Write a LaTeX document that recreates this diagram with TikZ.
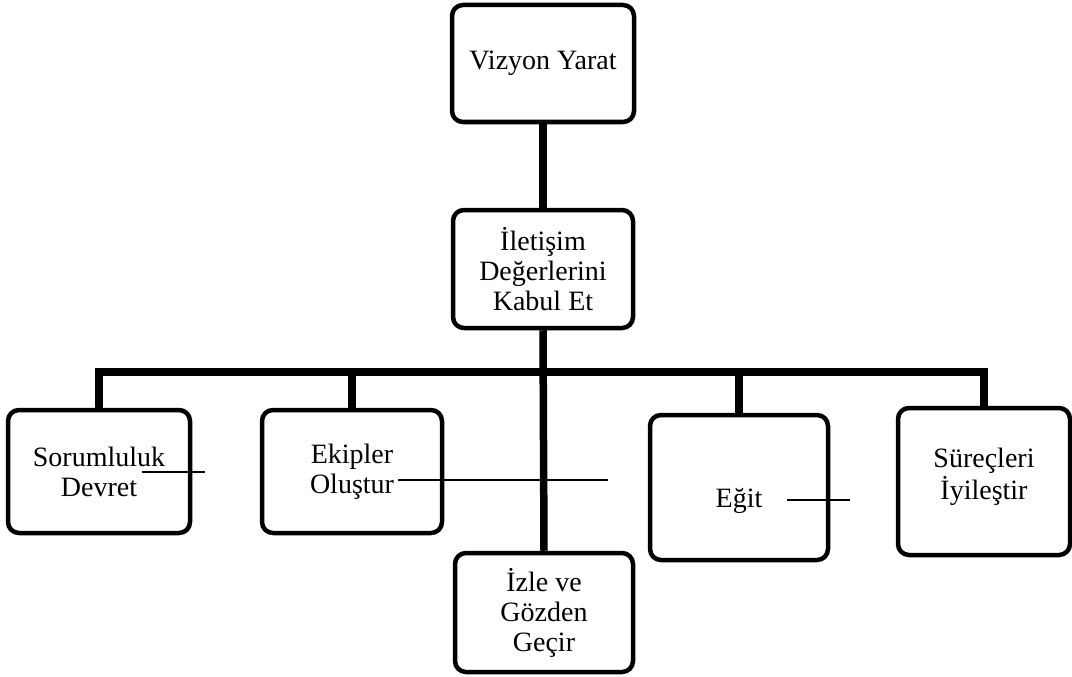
\documentclass[tikz,border=0pt]{standalone}
\usepackage{fontspec}
\setmainfont{Liberation Serif}
\begin{document}
\begin{tikzpicture}[x=1pt,y=-1pt,
  box/.style={draw=black,line width=4.5pt,rounded corners=11pt,fill=white,align=center,inner sep=0pt,font=\fontsize{28}{30}\selectfont},
  busline/.style={line width=7.5pt,line cap=butt,line join=miter},
  stray/.style={line width=2.6pt}]
\useasboundingbox (0,0) rectangle (1072,677);
\node[box,minimum width=182pt,minimum height=117pt] (b1) at (543,63.5) {Vizyon Yarat};
\node[box,minimum width=180pt,minimum height=118pt] (b2) at (543,269) {İletişim\\Değerlerini\\Kabul Et};
\node[box,minimum width=182pt,minimum height=123pt] (s) at (99,471.5) {Sorumluluk\\Devret};
\node[box,minimum width=180pt,minimum height=123pt] (ek) at (352,471.5) {Ekipler\\Oluştur};
\node[box,minimum width=178pt,minimum height=145pt] (eg) at (739,487.5) {\raisebox{-20pt}[0pt][0pt]{\begin{tabular}{@{}c@{}}Eğit\end{tabular}}};
\node[box,minimum width=172pt,minimum height=147pt] (su) at (984,481.5) {\raisebox{-2pt}[0pt][0pt]{\begin{tabular}{@{}c@{}}Süreçleri\\İyileştir\end{tabular}}};
\node[box,minimum width=178pt,minimum height=119pt] (iz) at (544,612.5) {İzle ve\\Gözden\\Geçir};
\coordinate (bus) at (543,372);
\draw[busline] (b1.south) -- (b2.north);
\draw[busline] (s.north) |- (bus) -| (su.north);
\draw[busline] (ek.north) -- (ek.north |- bus);
\draw[busline] (eg.north) -- (eg.north |- bus);
\draw[busline] (b2.south) -- (iz.north);
\coordinate (l1a) at (142,472); \coordinate (l1b) at (205,472);
\coordinate (l2a) at (398,480); \coordinate (l2b) at (608,480);
\coordinate (l3a) at (787,500); \coordinate (l3b) at (850,500);
\draw[stray] (l1a) -- (l1b);
\draw[stray] (l2a) -- (l2b);
\draw[stray] (l3a) -- (l3b);
\end{tikzpicture}
\end{document}
